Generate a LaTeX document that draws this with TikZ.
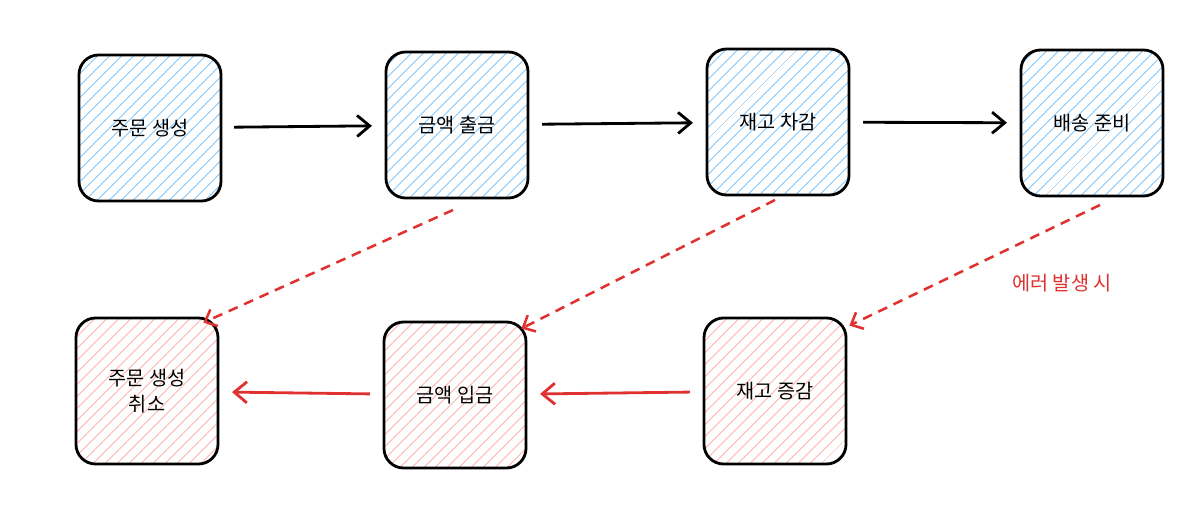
\documentclass[tikz,border=0pt]{standalone}
\usepackage{fontspec}
\setmainfont{Noto Sans CJK KR}
\usetikzlibrary{patterns.meta,arrows.meta}
\definecolor{bl}{HTML}{74C0FC}
\definecolor{pk}{HTML}{FFA8A8}
\definecolor{rd}{HTML}{E03131}
\begin{document}
\begin{tikzpicture}[x=0.025cm,y=-0.025cm,
 box/.style={draw=black,line width=2pt,rounded corners=14pt,minimum width=3.55cm,minimum height=3.65cm,font=\fontsize{14}{18}\selectfont,align=center},
 bluebox/.style={box,pattern={Lines[angle=45,distance=6.5pt,line width=0.7pt]},pattern color=bl},
 pinkbox/.style={box,pattern={Lines[angle=45,distance=6.5pt,line width=0.7pt]},pattern color=pk},
 arr/.style={-{Straight Barb[length=9pt,width=15pt]},line width=2pt,shorten <=9pt,shorten >=9pt},
 rarr/.style={arr,draw=rd},
 errdash/.style={-{Straight Barb[length=7pt,width=13pt]},draw=rd,line width=1.8pt,dash pattern=on 7pt off 5pt}]
\useasboundingbox (0,0) rectangle (1200,507);
\node[bluebox] (a) at (150,128) {주문 생성};
\node[bluebox] (b) at (457,125) {금액 출금};
\node[bluebox] (c) at (778,122) {재고 차감};
\node[bluebox] (d) at (1092,123) {배송 준비};
\node[pinkbox] (e) at (147,391) {주문 생성\\취소};
\node[pinkbox] (f) at (455,395) {금액 입금};
\node[pinkbox] (g) at (775,391) {재고 증감};
\draw[arr] (a) -- (b);
\draw[arr] (b) -- (c);
\draw[arr] (c) -- (d);
\draw[rarr] (g) -- (f);
\draw[rarr] (f) -- (e);
\coordinate (b1) at (453,210); \coordinate (c1) at (775,200); \coordinate (d1) at (1100,205);
\draw[errdash] (b1) -- ([shift={(-16,6)}]e.north east);
\draw[errdash] (c1) -- ([shift={(-6,8)}]f.north east);
\draw[errdash] (d1) -- ([shift={(2,9)}]g.north east);
\node[text=rd,font=\fontsize{14}{18}\selectfont] (l) at (1062,283) {에러 발생 시};
\end{tikzpicture}
\end{document}
